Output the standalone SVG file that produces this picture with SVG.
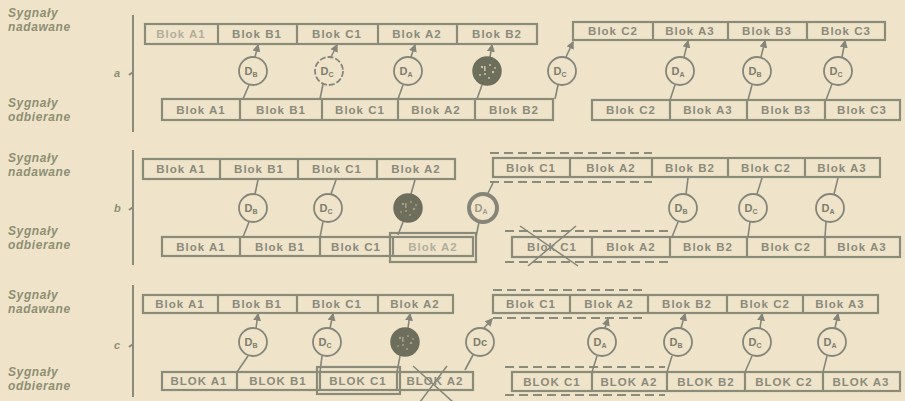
<svg xmlns="http://www.w3.org/2000/svg" width="905" height="401" viewBox="0 0 905 401">
<defs>
<style>
.bg{fill:#efe4c9}
.cell{fill:none;stroke:#8b8b79;stroke-width:2.2}
.dash{fill:none;stroke:#8b8b79;stroke-width:2;stroke-dasharray:9 5}
.bt{font-family:"Liberation Sans",Arial,sans-serif;font-weight:bold;font-size:11.5px;fill:#8a8a7c;text-anchor:middle;letter-spacing:1px}
.lab{font-family:"Liberation Sans",Arial,sans-serif;font-weight:bold;font-style:italic;font-size:12px;fill:#8e8e74;letter-spacing:0.6px}
.sec{font-family:"Liberation Sans",Arial,sans-serif;font-weight:bold;font-style:italic;font-size:11px;fill:#8e8e74}
.brace{stroke:#8b8b79;stroke-width:2;fill:none}
.circ{fill:#efe4c9;stroke:#85857a;stroke-width:1.8}
.thick{fill:#efe4c9;stroke:#85857a;stroke-width:4}
.filled{fill:#6e6e5c;stroke:#6e6e5c;stroke-width:1.5}
.speck{fill:#c9c2a6}
.ct{font-family:"Liberation Sans",Arial,sans-serif;font-weight:bold;font-size:11px;fill:#7d7d6e;text-anchor:middle}
.sub{font-size:7px}
.ln{stroke:#85857a;stroke-width:1.6;fill:none}
.arr{stroke:#85857a;stroke-width:1.6;fill:none;marker-end:url(#ah)}
.cross{stroke:#85857a;stroke-width:1.5;fill:none}
</style>
<marker id="ah" viewBox="0 0 6 6" refX="5" refY="3" markerWidth="5" markerHeight="5" orient="auto">
<path d="M0,0 L6,3 L0,6 z" fill="#85857a"/>
</marker>
<g id="specks">
<circle class="speck" cx="-5" cy="-4" r="1.2"/><circle class="speck" cx="3" cy="-6" r="1"/>
<circle class="speck" cx="6" cy="1" r="1.2"/><circle class="speck" cx="-2" cy="3" r="1.1"/>
<circle class="speck" cx="-7" cy="4" r="0.9"/><circle class="speck" cx="2" cy="7" r="1"/>
<circle class="speck" cx="8" cy="-3" r="0.9"/><rect class="speck" x="-3" y="-5" width="1.6" height="5"/>
</g>
</defs>
<rect class="bg" x="0" y="0" width="905" height="401"/>

<g id="labels">
<text class="lab" x="8" y="17">Sygnały</text>
<text class="lab" x="8" y="31">nadawane</text>
<text class="lab" x="8" y="107">Sygnały</text>
<text class="lab" x="8" y="121">odbierane</text>
<text class="lab" x="8" y="162">Sygnały</text>
<text class="lab" x="8" y="176">nadawane</text>
<text class="lab" x="8" y="235">Sygnały</text>
<text class="lab" x="8" y="249">odbierane</text>
<text class="lab" x="8" y="299">Sygnały</text>
<text class="lab" x="8" y="313">nadawane</text>
<text class="lab" x="8" y="376">Sygnały</text>
<text class="lab" x="8" y="390">odbierane</text>
</g>

<g id="braces">
<path class="brace" d="M133,15 V132 M133,72 L129,75"/>
<text class="sec" x="114" y="77">a</text>
<path class="brace" d="M133,150 V265 M133,207 L129,210"/>
<text class="sec" x="114" y="212">b</text>
<path class="brace" d="M133,285 V397 M133,344 L129,347"/>
<text class="sec" x="114" y="349">c</text>
</g>

<!-- Section a -->
<g id="a-sent-1">
<rect class="cell" x="145" y="24" width="392" height="20"/>
<path class="cell" d="M218,24V44 M297,24V44 M378,24V44 M457,24V44"/>
<text class="bt" x="181" y="38" opacity="0.6">Blok A1</text>
<text class="bt" x="257" y="38">Blok B1</text>
<text class="bt" x="337" y="38">Blok C1</text>
<text class="bt" x="417" y="38">Blok A2</text>
<text class="bt" x="497" y="38">Blok B2</text>
</g>
<g id="a-sent-2">
<rect class="cell" x="573" y="22" width="312" height="18"/>
<path class="cell" d="M653,22V40 M728,22V40 M807,22V40"/>
<text class="bt" x="613" y="35">Blok C2</text>
<text class="bt" x="690" y="35">Blok A3</text>
<text class="bt" x="767" y="35">Blok B3</text>
<text class="bt" x="846" y="35">Blok C3</text>
</g>
<g id="a-recv-1">
<rect class="cell" x="162" y="99" width="391" height="21"/>
<path class="cell" d="M240,99V120 M322,99V120 M398,99V120 M475,99V120"/>
<text class="bt" x="201" y="114">Blok A1</text>
<text class="bt" x="281" y="114">Blok B1</text>
<text class="bt" x="360" y="114">Blok C1</text>
<text class="bt" x="436" y="114">Blok A2</text>
<text class="bt" x="514" y="114">Blok B2</text>
</g>
<g id="a-recv-2">
<rect class="cell" x="592" y="100" width="308" height="20"/>
<path class="cell" d="M670,100V120 M747,100V120 M825,100V120"/>
<text class="bt" x="631" y="114">Blok C2</text>
<text class="bt" x="708" y="114">Blok A3</text>
<text class="bt" x="786" y="114">Blok B3</text>
<text class="bt" x="862" y="114">Blok C3</text>
</g>

<!-- Section b -->
<g id="b-sent-1">
<rect class="cell" x="143" y="159" width="312" height="20"/>
<path class="cell" d="M220,159V179 M298,159V179 M377,159V179"/>
<text class="bt" x="181" y="173">Blok A1</text>
<text class="bt" x="259" y="173">Blok B1</text>
<text class="bt" x="337" y="173">Blok C1</text>
<text class="bt" x="416" y="173">Blok A2</text>
</g>
<g id="b-sent-2">
<rect class="cell" x="493" y="158" width="387" height="19"/>
<path class="cell" d="M570,158V177 M652,158V177 M728,158V177 M805,158V177"/>
<path class="dash" d="M490,153H652 M490,182H652"/>
<text class="bt" x="531" y="172">Blok C1</text>
<text class="bt" x="611" y="172">Blok A2</text>
<text class="bt" x="690" y="172">Blok B2</text>
<text class="bt" x="766" y="172">Blok C2</text>
<text class="bt" x="842" y="172">Blok A3</text>
</g>
<g id="b-recv-1">
<rect class="cell" x="162" y="237" width="311" height="19"/>
<path class="cell" d="M240,237V256 M320,237V256 M393,237V256"/>
<rect class="cell" x="390" y="233" width="86" height="29" stroke-width="1.4"/>
<text class="bt" x="201" y="251">Blok A1</text>
<text class="bt" x="280" y="251">Blok B1</text>
<text class="bt" x="356" y="251">Blok C1</text>
<text class="bt" x="433" y="251" opacity="0.6">Blok A2</text>
</g>
<g id="b-recv-2">
<rect class="cell" x="512" y="237" width="388" height="20"/>
<path class="cell" d="M592,237V257 M670,237V257 M747,237V257 M825,237V257"/>
<path class="dash" d="M505,231H672 M505,262H672"/>
<path class="cross" d="M520,226L578,266 M576,226L528,266"/>
<text class="bt" x="552" y="251">Blok C1</text>
<text class="bt" x="631" y="251">Blok A2</text>
<text class="bt" x="708" y="251">Blok B2</text>
<text class="bt" x="786" y="251">Blok C2</text>
<text class="bt" x="862" y="251">Blok A3</text>
</g>

<!-- Section c -->
<g id="c-sent-1">
<rect class="cell" x="143" y="295" width="310" height="18"/>
<path class="cell" d="M218,295V313 M297,295V313 M378,295V313"/>
<text class="bt" x="180" y="308">Blok A1</text>
<text class="bt" x="257" y="308">Blok B1</text>
<text class="bt" x="337" y="308">Blok C1</text>
<text class="bt" x="415" y="308">Blok A2</text>
</g>
<g id="c-sent-2">
<rect class="cell" x="493" y="295" width="385" height="18"/>
<path class="cell" d="M570,295V313 M648,295V313 M727,295V313 M803,295V313"/>
<path class="dash" d="M493,290H645 M493,318H645"/>
<text class="bt" x="531" y="308">Blok C1</text>
<text class="bt" x="609" y="308">Blok A2</text>
<text class="bt" x="687" y="308">Blok B2</text>
<text class="bt" x="765" y="308">Blok C2</text>
<text class="bt" x="840" y="308">Blok A3</text>
</g>
<g id="c-recv-1">
<rect class="cell" x="162" y="372" width="311" height="18"/>
<path class="cell" d="M237,372V390 M320,372V390 M397,372V390"/>
<rect class="cell" x="317" y="367" width="83" height="27" stroke-width="1.4"/>
<path class="cross" d="M413,366L453,402 M447,366L420,402"/>
<text class="bt" x="199" y="385">BLOK A1</text>
<text class="bt" x="278" y="385">BLOK B1</text>
<text class="bt" x="358" y="385">BLOK C1</text>
<text class="bt" x="435" y="385">BLOK A2</text>
</g>
<g id="c-recv-2">
<rect class="cell" x="512" y="372" width="388" height="19"/>
<path class="cell" d="M592,372V391 M667,372V391 M745,372V391 M823,372V391"/>
<path class="dash" d="M505,367H665 M505,395H665"/>
<text class="bt" x="552" y="386">BLOK C1</text>
<text class="bt" x="629" y="386">BLOK A2</text>
<text class="bt" x="706" y="386">BLOK B2</text>
<text class="bt" x="784" y="386">BLOK C2</text>
<text class="bt" x="861" y="386">BLOK A3</text>
</g>

<g id="connectors">
<!-- a -->
<path class="arr" d="M255,57 L258,45"/><path class="ln" d="M249,85 L243,99"/>
<path class="arr" d="M331,57 L337,45"/><path class="ln" d="M323,84 L320,99"/>
<path class="arr" d="M411,57 L415,45"/><path class="ln" d="M403,85 L398,99"/>
<path class="arr" d="M490,57 L492,45"/><path class="ln" d="M482,85 L477,99"/>
<path class="arr" d="M566,57 L573,42"/><path class="ln" d="M558,85 L555,99"/>
<path class="arr" d="M684,57 L688,41"/><path class="ln" d="M675,85 L670,100"/>
<path class="arr" d="M761,57 L765,41"/><path class="ln" d="M752,85 L748,100"/>
<path class="arr" d="M842,57 L845,41"/><path class="ln" d="M832,84 L826,100"/>
<!-- b -->
<path class="ln" d="M255,194 L258,180"/><path class="ln" d="M249,222 L243,237"/>
<path class="ln" d="M331,194 L336,180"/><path class="ln" d="M323,222 L320,237"/>
<path class="ln" d="M411,194 L415,180"/><path class="ln" d="M403,222 L398,235"/>
<path class="ln" d="M487,195 L493,183"/><path class="ln" d="M479,222 L476,237"/>
<path class="ln" d="M686,194 L688,178"/><path class="ln" d="M678,222 L672,237"/>
<path class="ln" d="M757,194 L762,178"/><path class="ln" d="M750,222 L748,237"/>
<path class="ln" d="M834,194 L838,178"/><path class="ln" d="M826,222 L825,237"/>
<!-- c -->
<path class="arr" d="M256,328 L258,314"/><path class="ln" d="M248,356 L237,372"/>
<path class="arr" d="M330,328 L333,314"/><path class="ln" d="M322,356 L320,372"/>
<path class="arr" d="M408,328 L410,314"/><path class="ln" d="M400,356 L397,372"/>
<path class="arr" d="M484,328 L492,319"/><path class="ln" d="M473,355 L465,370"/>
<path class="arr" d="M605,328 L608,319"/><path class="ln" d="M597,356 L592,372"/>
<path class="arr" d="M681,328 L685,314"/><path class="ln" d="M672,356 L667,372"/>
<path class="arr" d="M760,328 L762,314"/><path class="ln" d="M752,356 L745,372"/>
<path class="arr" d="M835,328 L838,314"/><path class="ln" d="M827,356 L823,372"/>
</g>

<!-- Circles section a -->
<g id="a-DB1"><circle class="circ" cx="253" cy="71" r="14"/><text class="ct" x="251" y="75">D<tspan class="sub" dy="2">B</tspan></text></g>
<g id="a-DC1"><circle class="circ" cx="329" cy="71" r="14" stroke-dasharray="6 2"/><text class="ct" x="327" y="75">D<tspan class="sub" dy="2">C</tspan></text></g>
<g id="a-DA1"><circle class="circ" cx="408" cy="71" r="14"/><text class="ct" x="406" y="75">D<tspan class="sub" dy="2">A</tspan></text></g>
<g id="a-err"><circle class="filled" cx="487" cy="71" r="14"/><use href="#specks" x="487" y="71"/></g>
<g id="a-DC2"><circle class="circ" cx="562" cy="71" r="14"/><text class="ct" x="560" y="75">D<tspan class="sub" dy="2">C</tspan></text></g>
<g id="a-DA2"><circle class="circ" cx="680" cy="71" r="14"/><text class="ct" x="678" y="75">D<tspan class="sub" dy="2">A</tspan></text></g>
<g id="a-DB2"><circle class="circ" cx="757" cy="71" r="14"/><text class="ct" x="755" y="75">D<tspan class="sub" dy="2">B</tspan></text></g>
<g id="a-DC3"><circle class="circ" cx="838" cy="71" r="14"/><text class="ct" x="836" y="75">D<tspan class="sub" dy="2">C</tspan></text></g>

<!-- Circles section b -->
<g id="b-DB1"><circle class="circ" cx="253" cy="208" r="14"/><text class="ct" x="251" y="212">D<tspan class="sub" dy="2">B</tspan></text></g>
<g id="b-DC1"><circle class="circ" cx="328" cy="208" r="14"/><text class="ct" x="326" y="212">D<tspan class="sub" dy="2">C</tspan></text></g>
<g id="b-err"><circle class="filled" cx="408" cy="208" r="14" fill="#7a7a68"/><use href="#specks" x="408" y="208" opacity="0.6"/></g>
<g id="b-DA1"><circle class="thick" cx="483" cy="208" r="14"/><text class="ct" x="481" y="212" opacity="0.7">D<tspan class="sub" dy="2">A</tspan></text></g>
<g id="b-DB2"><circle class="circ" cx="683" cy="208" r="14"/><text class="ct" x="681" y="212">D<tspan class="sub" dy="2">B</tspan></text></g>
<g id="b-DC2"><circle class="circ" cx="753" cy="208" r="14"/><text class="ct" x="751" y="212">D<tspan class="sub" dy="2">C</tspan></text></g>
<g id="b-DA2"><circle class="circ" cx="830" cy="208" r="14"/><text class="ct" x="828" y="212">D<tspan class="sub" dy="2">A</tspan></text></g>

<!-- Circles section c -->
<g id="c-DB1"><circle class="circ" cx="253" cy="342" r="14"/><text class="ct" x="251" y="346">D<tspan class="sub" dy="2">B</tspan></text></g>
<g id="c-DC1"><circle class="circ" cx="327" cy="342" r="14"/><text class="ct" x="325" y="346">D<tspan class="sub" dy="2">C</tspan></text></g>
<g id="c-err"><circle class="filled" cx="405" cy="342" r="14" fill="#7a7a68"/><use href="#specks" x="405" y="342" opacity="0.6"/></g>
<g id="c-DC2"><circle class="circ" cx="480" cy="342" r="14"/><text class="ct" x="480" y="346">Dc</text></g>
<g id="c-DA1"><circle class="circ" cx="602" cy="342" r="14"/><text class="ct" x="600" y="346">D<tspan class="sub" dy="2">A</tspan></text></g>
<g id="c-DB2"><circle class="circ" cx="678" cy="342" r="14"/><text class="ct" x="676" y="346">D<tspan class="sub" dy="2">B</tspan></text></g>
<g id="c-DC3"><circle class="circ" cx="757" cy="342" r="14"/><text class="ct" x="755" y="346">D<tspan class="sub" dy="2">C</tspan></text></g>
<g id="c-DA2"><circle class="circ" cx="832" cy="342" r="14"/><text class="ct" x="830" y="346">D<tspan class="sub" dy="2">A</tspan></text></g>
</svg>
